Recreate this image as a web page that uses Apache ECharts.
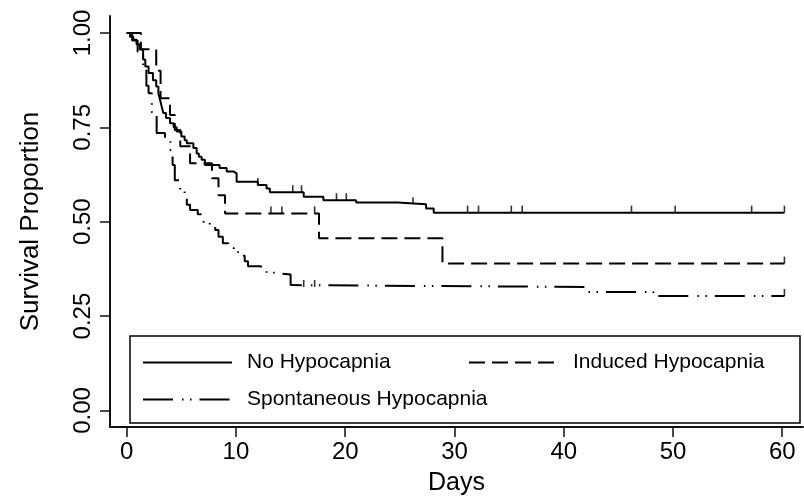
<!DOCTYPE html>
<html>
<head>
<meta charset="utf-8">
<script src="https://cdn.jsdelivr.net/npm/echarts@6/dist/echarts.min.js"></script>
<style>
  html, body { margin: 0; padding: 0; background: #fff; }
  #chart { width: 804px; height: 501px; }
</style>
</head>
<body>
<div id="chart"></div>
<script type="text/javascript">
    // Kaplan-Meier steps: time (days) where the curve drops, and the new survival value
    var noHypoTime = [0, 0.3, 0.6, 0.9, 1.2, 1.5, 1.7, 2.0, 2.4, 2.7, 2.9, 3.05, 3.2, 3.35, 3.6, 3.96, 4.3, 4.57, 5.0, 5.3,
        5.5, 6.1, 6.4, 6.6, 6.86, 7.16, 8.5, 9.15, 9.75, 10.06, 12.0, 12.8, 13.1, 16.2, 18.0, 21.0, 24.8, 27.4, 28.1, 60.2];
    var noHypoSurv = [1, 0.99, 0.982, 0.97, 0.956, 0.93, 0.911, 0.894, 0.875, 0.858, 0.84, 0.823, 0.805, 0.788, 0.775, 0.761, 0.75, 0.739, 0.726, 0.716,
        0.708, 0.695, 0.681, 0.672, 0.664, 0.65, 0.642, 0.633, 0.628, 0.606, 0.597, 0.588, 0.578, 0.566, 0.557, 0.551, 0.546, 0.535, 0.524, 0.524];
    var noHypoCensor = [12.0, 15.2, 16.0, 19.2, 20.1, 26.2, 31.2, 32.2, 35.2, 36.2, 46.2, 50.2, 57.2, 60.2];

    var inducedTime = [0, 1.3, 2.7, 3.1, 3.96, 4.4, 4.9, 5.8, 7.8, 8.4, 9.0, 17.6, 28.9, 60.2];
    var inducedSurv = [1, 0.957, 0.9, 0.827, 0.783, 0.743, 0.70, 0.655, 0.615, 0.57, 0.522, 0.456, 0.389, 0.389];
    var inducedCensor = [13.2, 14.2, 17.2, 60.2];

    var spontTime = [0, 0.5, 1.0, 1.5, 1.8, 2.0, 2.3, 2.74, 3.5, 4.0, 4.2, 4.4, 4.9, 5.3, 5.5, 5.8, 6.5, 7.0, 7.6, 8.1,
        8.4, 8.8, 9.3, 9.8, 10.4, 10.8, 11.1, 12.3, 12.8, 13.4, 15.0, 15.2, 42.0, 48.2, 60.2];
    var spontSurv = [1, 0.98, 0.95, 0.91, 0.86, 0.84, 0.79, 0.735, 0.715, 0.69, 0.65, 0.61, 0.584, 0.56, 0.545, 0.531, 0.52, 0.50, 0.486, 0.478,
        0.46, 0.443, 0.43, 0.42, 0.41, 0.395, 0.382, 0.375, 0.365, 0.36, 0.332, 0.327, 0.314, 0.303, 0.303];
    var spontCensor = [16.2, 17.2, 60.2];

    var xTicks = [0, 10, 20, 30, 40, 50, 60];
    var yTicks = [0, 0.25, 0.5, 0.75, 1];
    var names = ['No Hypocapnia', 'Induced Hypocapnia', 'Spontaneous Hypocapnia'];

    var fontFam = 'Liberation Sans, Arial, Helvetica, sans-serif';

    function zip(t, s) {
        return t.map(function (v, i) { return [v, s[i]]; });
    }
    // survival value in force at time x
    function stepAt(t, s, x) {
        var v = s[0];
        for (var i = 0; i < t.length; i++) {
            if (t[i] <= x) v = s[i];
        }
        return v;
    }
    function censor(t, s, c) {
        return c.map(function (x) { return [x, stepAt(t, s, x)]; });
    }

    function kmLine(name, t, s, type) {
        return {
            name: name,
            type: 'line',
            step: 'end',
            symbol: 'none',
            silent: true,
            data: zip(t, s),
            itemStyle: {color: '#000'},
            lineStyle: {color: '#000', width: 2, type: type}
        };
    }
    function ticks(t, s, c) {
        return {
            type: 'scatter',
            symbol: 'rect',
            symbolSize: [1.6, 7],
            symbolOffset: [0, -3.5],
            itemStyle: {color: '#000'},
            silent: true,
            z: 3,
            data: censor(t, s, c)
        };
    }

    function legendAt(name, left, top) {
        return {
            data: [name],
            left: left,
            top: top,
            padding: 0,
            itemWidth: 89,
            itemHeight: 14,
            selectedMode: false,
            itemStyle: {opacity: 0},
            textStyle: {color: '#000', fontSize: 21, fontFamily: fontFam, padding: [0, 0, 0, 10]}
        };
    }

    var myChart = echarts.init(document.getElementById('chart'), null, {renderer: 'canvas'});
    var option = {
        animation: false,
        backgroundColor: '#fff',
        grid: {left: 110, right: 1, top: 16, bottom: 74},
        legend: [
            legendAt(names[0], 142, 352),
            legendAt(names[1], 468, 352),
            legendAt(names[2], 142, 389)
        ],
        graphic: [{
            type: 'rect',
            shape: {x: 130, y: 336, width: 670, height: 87},
            style: {fill: null, stroke: '#000', lineWidth: 1.5},
            silent: true
        }],
        xAxis: {
            type: 'value',
            min: -1.53,
            max: 61.9,
            name: 'Days',
            nameLocation: 'middle',
            nameGap: 44,
            nameTextStyle: {color: '#000', fontSize: 25, fontFamily: fontFam},
            axisLine: {onZero: false, lineStyle: {color: '#111', width: 2}},
            axisTick: {show: true, length: 10, customValues: xTicks, lineStyle: {color: '#111', width: 1.5}},
            axisLabel: {customValues: xTicks, color: '#000', fontSize: 24, fontFamily: fontFam, margin: 13},
            splitLine: {show: false}
        },
        yAxis: {
            type: 'value',
            min: -0.044,
            max: 1.045,
            name: 'Survival Proportion',
            nameLocation: 'middle',
            nameGap: 66,
            nameRotate: 90,
            nameTextStyle: {color: '#000', fontSize: 26, fontFamily: fontFam},
            axisLine: {show: true, onZero: false, lineStyle: {color: '#111', width: 2}},
            axisTick: {show: true, length: 10, customValues: yTicks, lineStyle: {color: '#111', width: 1.5}},
            axisLabel: {
                customValues: yTicks, rotate: 90, color: '#000', fontSize: 24, fontFamily: fontFam, margin: 15,
                formatter: function (v) { return v.toFixed(2); }
            },
            splitLine: {show: false}
        },
        series: [
            kmLine(names[0], noHypoTime, noHypoSurv, 'solid'),
            kmLine(names[1], inducedTime, inducedSurv, [16, 7]),
            kmLine(names[2], spontTime, spontSurv, [30, 9, 1.5, 6.5, 1.5, 8]),
            ticks(noHypoTime, noHypoSurv, noHypoCensor),
            ticks(inducedTime, inducedSurv, inducedCensor),
            ticks(spontTime, spontSurv, spontCensor)
        ]
    };
    myChart.setOption(option);
    window.onresize = function () {
        myChart.resize();
    };
</script>
</body>
</html>
